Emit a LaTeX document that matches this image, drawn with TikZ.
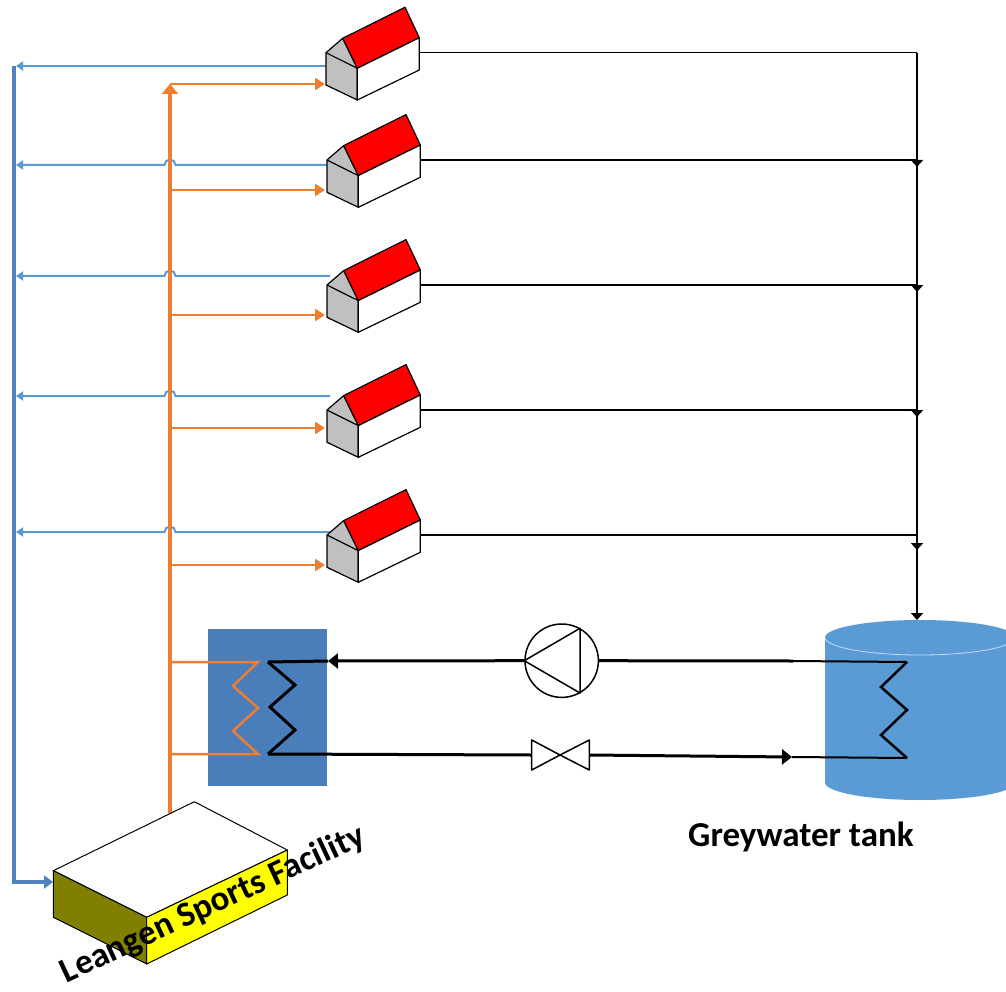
\documentclass[tikz,border=0pt]{standalone}
\usepackage{fontspec}
\setmainfont{Carlito}
\usetikzlibrary{arrows.meta}

\definecolor{pipeblue}{HTML}{5B9BD5}
\definecolor{returnblue}{HTML}{4F81BD}
\definecolor{heatorange}{HTML}{ED7D31}
\definecolor{hxblue}{HTML}{4A7EBB}
\definecolor{tankblue}{HTML}{5B9BD5}
\definecolor{tankrim}{HTML}{C9DCF0}
\definecolor{roofred}{HTML}{FF0000}
\definecolor{wallgray}{HTML}{C0C0C0}
\definecolor{facadeolive}{HTML}{808000}
\definecolor{facadeyellow}{HTML}{FFFF00}

\tikzset{
  supply/.style={heatorange, line width=2.5pt, -{Triangle[length=10pt,width=12pt]}},
  trunk/.style={heatorange, line width=3.5pt, -{Triangle[length=10pt,width=16pt]}},
  hxloop/.style={heatorange, line width=2.5pt, line join=miter},
  ret/.style={pipeblue, line width=2pt, -{Triangle[length=7pt,width=9pt]}},
  mainret/.style={returnblue, line width=3.5pt, -{Triangle[length=9pt,width=13pt]}},
  drain/.style={black, line width=1.6pt},
  drainarrow/.style={black, line width=1.8pt, -{Triangle[length=7pt,width=12pt]}},
  loopline/.style={black, line width=3pt},
  thinloop/.style={black, line width=2pt},
  loopcoil/.style={black, line width=3pt, line join=miter},
  looparrow/.style={-{Triangle[length=10pt,width=15pt]}},
  edge/.style={black, line width=1.2pt, line join=round},
  label/.style={font=\fontsize{35}{35}\selectfont\bfseries, inner sep=0pt},
  pics/house/.style={code={
    % gable end wall
    \filldraw[wallgray, draw=black, line width=1.2pt, line join=round]
      (0,45.7) -- (16.7,31.3) -- (31.3,61.3) -- (31.3,93) -- (0,78) -- cycle;
    \draw[edge] (0,45.7) -- (31.3,61.3);
    % roof slope
    \filldraw[roofred, draw=black, line width=1.2pt, line join=round]
      (16.7,31.3) -- (79,0.3) -- (93.3,30.7) -- (31.3,61.3) -- cycle;
    % long side wall
    \filldraw[white, draw=black, line width=1.2pt, line join=round]
      (31.3,61.3) -- (93.3,30.7) -- (93.3,63) -- (31.3,93) -- cycle;
    \coordinate (-out) at (93.3,45.7);
  }}
}

\begin{document}
\begin{tikzpicture}[x=1pt,y=-1pt]
\useasboundingbox (0,0) rectangle (1006,992);
\clip (0,0) rectangle (1006,992);

% ---------- key points ----------
\coordinate (retTop) at (14,66);
\coordinate (retBot) at (14,882);
\coordinate (facIn) at (53,882);
\coordinate (trunkBot) at (170,813);
\coordinate (trunkTop) at (170,84);

% ---------- greywater tank ----------
\fill[tankblue] (825,637.5) -- (825,782.5)
  arc[start angle=180,end angle=360,x radius=95pt,y radius=17.5pt]
  -- (1015,637.5)
  arc[start angle=0,end angle=180,x radius=95pt,y radius=17.5pt] -- cycle;
\draw[tankrim, line width=0.8pt] (825,637.5)
  arc[start angle=180,end angle=360,x radius=95pt,y radius=17.5pt];
\coordinate (tankTop) at (917,620);

% ---------- heat exchanger ----------
\node[fill=hxblue, minimum width=119pt, minimum height=157pt, inner sep=0pt] (hx) at (267.5,707.5) {};

% ---------- return (blue) lines ----------
\coordinate (r1) at (330,66);   \coordinate (r1e) at (16,66);
\coordinate (r2) at (330,165);  \coordinate (r2e) at (16,165);
\coordinate (r3) at (330,276);  \coordinate (r3e) at (16,276);
\coordinate (r4) at (330,396);  \coordinate (r4e) at (16,396);
\coordinate (r5) at (330,532);  \coordinate (r5e) at (16,532);

\draw[mainret] (retTop) -- (retBot) -- (facIn);
\draw[ret] (r1) -- (r1e);
\foreach \r/\y in {r2/165,r3/276,r4/396,r5/532}{
  \draw[ret] (\r) -- (175.5,\y) arc[start angle=0,end angle=180,radius=5.5pt] -- (\r e);
}

% ---------- supply (orange) lines ----------
\draw[trunk] (trunkBot) -- (trunkTop);
\coordinate (s1) at (325,84);
\coordinate (s2) at (325,190);
\coordinate (s3) at (325,315);
\coordinate (s4) at (325,428);
\coordinate (s5) at (325,565);
\draw[supply] (trunkTop) -- (s1);
\draw[supply] (170,190) -- (s2);
\draw[supply] (170,315) -- (s3);
\draw[supply] (170,428) -- (s4);
\draw[supply] (170,565) -- (s5);
\draw[hxloop] (170,662) -- (258,662) -- (233,686) -- (258,708) -- (233,731) -- (258,754) -- (170,754);

% ---------- houses ----------
\pic (h1) at (326,7) {house};
\pic (h2) at (327,114.3) {house};
\pic (h3) at (327,239.3) {house};
\pic (h4) at (327,364.3) {house};
\pic (h5) at (327,489.3) {house};

% ---------- greywater drain lines ----------
\coordinate (j1) at (917,52.7);
\coordinate (j2) at (917,160);
\coordinate (j3) at (917,285);
\coordinate (j4) at (917,410);
\coordinate (j5) at (917,535);
\draw[drain] (h1-out) -- (j1);
\draw[drain] (h2-out) -- (j2);
\draw[drain] (h3-out) -- (j3);
\draw[drain] (h4-out) -- (j4);
\draw[drain] (h5-out) -- (j5);
\draw[drainarrow] (j1) -- (917,167);
\draw[drainarrow] (j2) -- (917,292);
\draw[drainarrow] (j3) -- (917,417);
\draw[drainarrow] (j4) -- (917,550);
\draw[drainarrow] (j5) -- (tankTop);

% ---------- heating loop between tank and exchanger ----------
\node[circle, draw=black, line width=1.5pt, fill=white, minimum size=73.4pt, inner sep=0pt] (pump) at (561.7,660.7) {};
\draw[black, line width=1.5pt, line join=round] (pump.west) -- (580,628.3) -- (580,693) -- cycle;

\coordinate (tkIn) at (907,662);
\coordinate (tkOut) at (907,758);
\coordinate (tkMid1) at (793,661);
\coordinate (tkMid2) at (792,757);
\draw[thinloop] (tkIn) -- (tkMid1);
\draw[loopline] (tkMid1) -- (pump.east);
\coordinate (hxIn) at (328,661);
\draw[loopline, looparrow] (pump.west) -- (hxIn);
\draw[loopline] (hxIn) -- (268,662);
\draw[loopcoil] (268,662) -- (295,685) -- (270,707) -- (295,730) -- (268,754);

% valve
\coordinate (vL) at (531.7,755);
\coordinate (vR) at (589.3,755);
\draw[loopline] (268,754) -- (vL);
\filldraw[fill=white, draw=black, line width=1.5pt, line join=round]
  (531.7,740) -- (560,755) -- (531.7,770) -- cycle
  (589.3,740) -- (560,755) -- (589.3,770) -- cycle;
\draw[loopline, looparrow] (vR) -- (tkMid2);
\draw[thinloop] (tkMid2) -- (tkOut);
\draw[loopcoil, line width=2.5pt] (tkIn) -- (881,687) -- (907,710) -- (881,735) -- (tkOut);

% ---------- sports facility ----------
\coordinate (T1) at (53.3,870.7);
\coordinate (T2) at (194.3,801.7);
\coordinate (T3) at (287.3,850);
\coordinate (T4) at (146.7,917.3);
\coordinate (L3) at (146.7,964);
\coordinate (L4) at (53.3,917.3);
\coordinate (R3) at (287.3,895);
\filldraw[white, draw=black, line width=1pt, line join=round] (T1) -- (T2) -- (T3) -- (T4) -- cycle;
\filldraw[facadeolive, draw=black, line width=1pt, line join=round] (T1) -- (T4) -- (L3) -- (L4) -- cycle;
\filldraw[facadeyellow, draw=black, line width=1pt, line join=round] (T4) -- (T3) -- (R3) -- (L3) -- cycle;

% ---------- labels ----------
\node[label, anchor=base west, rotate=25] (facility) at (66.7,983.3) {Leangen Sports Facility};
\node[label, anchor=base west] (tank) at (688,846) {Greywater tank};
\end{tikzpicture}
\end{document}
